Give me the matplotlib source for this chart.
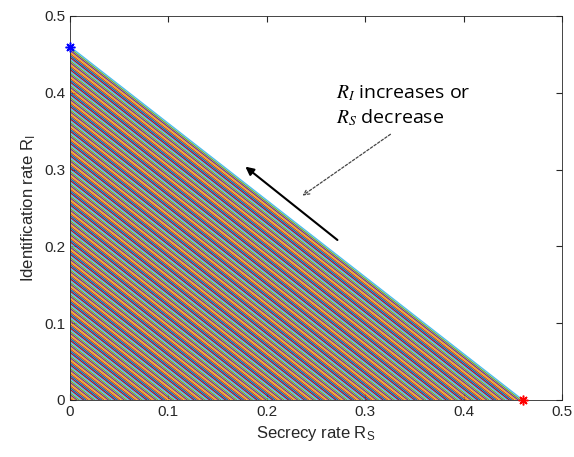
import numpy as np
import matplotlib
matplotlib.use("Agg")
import matplotlib.pyplot as plt

# sum-rate bound and the grid of achievable sum-rate levels
sum_rate_max = 0.46
n_levels = 202
levels = np.linspace(0, sum_rate_max, n_levels)

corner_rs = [0.0, 0.46]
corner_ri = [0.46, 0.0]
corner_colors = ['blue', 'red']

matlab_colors = ['#0072BD', '#D95319', '#EDB120', '#7E2F8E',
                 '#77AC30', '#4DBEEE', '#A2142F']

plt.rcParams['font.family'] = ['Liberation Sans', 'DejaVu Sans']
plt.rcParams['mathtext.fontset'] = 'stix'

fig = plt.figure(figsize=(5.74, 4.57), dpi=100)
ax = fig.add_axes([0.122, 0.125, 0.857, 0.840])

for i, c in enumerate(levels):
    ax.plot([0, c], [c, 0], color=matlab_colors[i % 7], lw=1.0)

for x, y, col in zip(corner_rs, corner_ri, corner_colors):
    ax.plot(x, y, marker=(8, 2, 0), color=col, ms=7, mew=1.1,
            clip_on=False, zorder=5)

# direction arrow and its note
ax.annotate('', xy=(0.176, 0.306), xytext=(0.274, 0.206),
            arrowprops=dict(arrowstyle='-|>', color='black', lw=1.5,
                            mutation_scale=12))
ax.annotate('', xy=(0.234, 0.264), xytext=(0.328, 0.348),
            arrowprops=dict(arrowstyle='->', color='#444444', lw=0.9,
                            linestyle=(0, (2, 1.5)), mutation_scale=10))
ax.text(0.270, 0.383, '$R_I$ increases or\n$R_S$ decrease', fontsize=14,
        family=['Open Sans', 'DejaVu Sans'], va='center', ha='left',
        linespacing=1.25)

ax.set_xlim(0, 0.5)
ax.set_ylim(0, 0.5)
ax.set_xticks([0, 0.1, 0.2, 0.3, 0.4, 0.5])
ax.set_yticks([0, 0.1, 0.2, 0.3, 0.4, 0.5])
ax.set_xticklabels(['0', '0.1', '0.2', '0.3', '0.4', '0.5'])
ax.set_yticklabels(['0', '0.1', '0.2', '0.3', '0.4', '0.5'])
ax.tick_params(direction='in', labelsize=11, length=4, color='#262626',
               labelcolor='#262626', top=True, right=True)
for s in ax.spines.values():
    s.set_color('#262626')
    s.set_linewidth(0.6)

ax.set_xlabel('Secrecy rate R$_\\mathregular{S}$', fontsize=12, color='#262626')
ax.set_ylabel('Identification rate R$_\\mathregular{I}$', fontsize=12, color='#262626')

fig.savefig('out.png', dpi=100)
